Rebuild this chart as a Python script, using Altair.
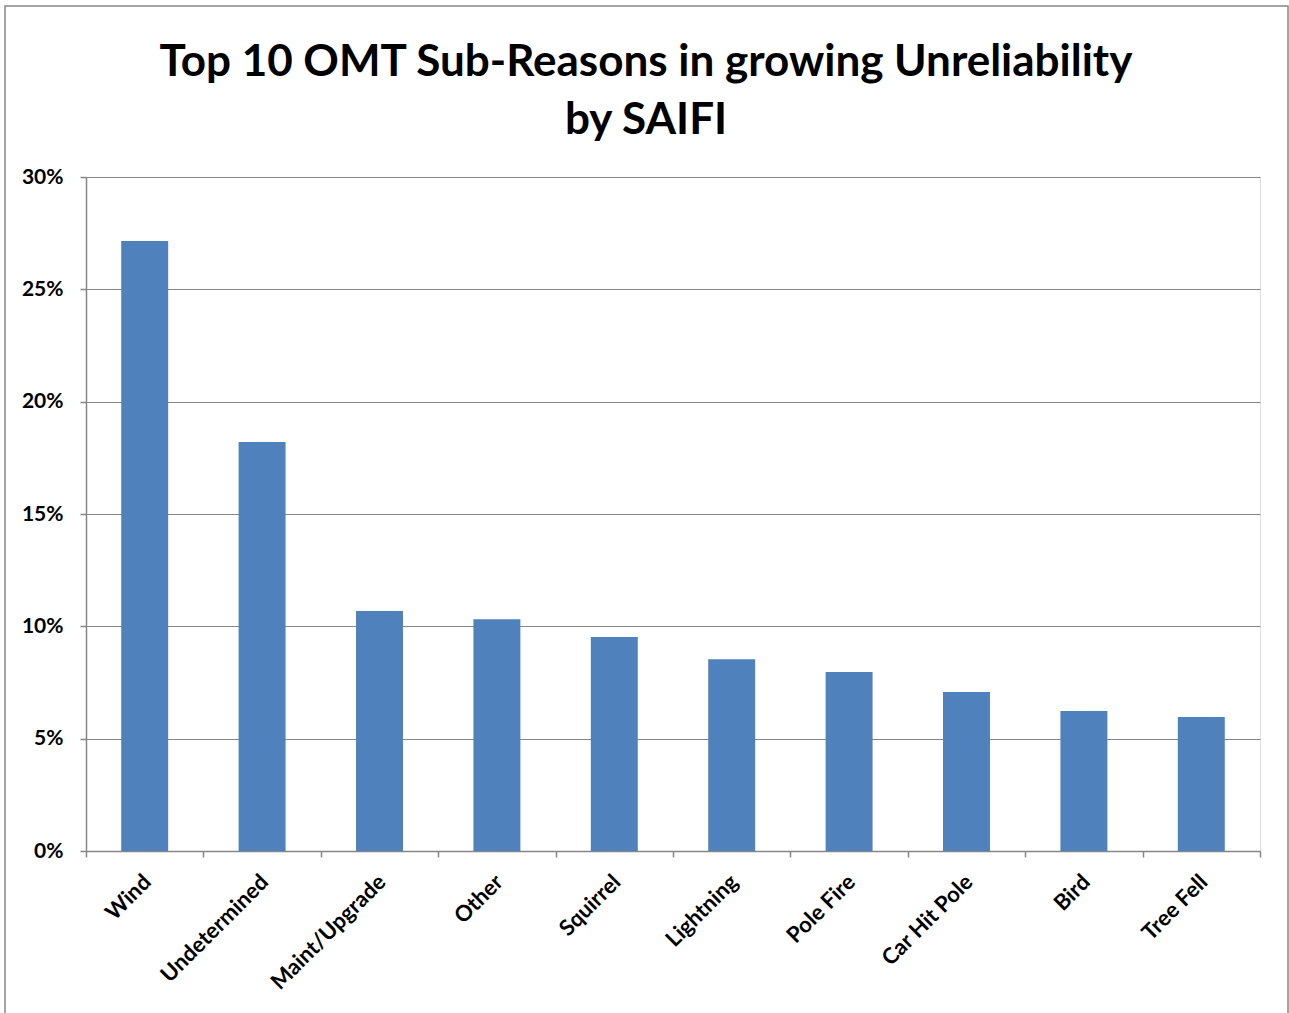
import altair as alt
import pandas as pd

categories = ["Wind", "Undetermined", "Maint/Upgrade", "Other", "Squirrel",
              "Lightning", "Pole Fire", "Car Hit Pole", "Bird", "Tree Fell"]
values = [0.2715, 0.182, 0.1068, 0.1032, 0.0952, 0.0854, 0.0797, 0.0708, 0.0623, 0.0596]

df = pd.DataFrame({"reason": categories, "share": values})

FONT = "Lato"
GRAY = "#868686"

border = alt.Chart(pd.DataFrame({"a": [0]})).mark_rect(
    fill=None, stroke=GRAY, strokeWidth=1.5
).encode(
    x=alt.value(-81), x2=alt.value(1202), y=alt.value(-171), y2=alt.value(900)
)

bars = alt.Chart(df).mark_bar(color="#4F81BD", width=alt.RelativeBandSize(0.4)).encode(
    x=alt.X("reason:N", sort=categories, title=None,
            scale=alt.Scale(paddingInner=0, paddingOuter=0),
            axis=alt.Axis(labelAngle=-45, labelAlign="right", labelBaseline="top",
                          labelFont=FONT, labelFontWeight="bold", labelFontSize=22,
                          labelColor="black", tickBand="extent", tickSize=6,
                          tickColor=GRAY, domainColor=GRAY, labelPadding=14,
                          labelOffset=-5, tickWidth=1.5, domainWidth=1.5)),
    y=alt.Y("share:Q", title=None,
            scale=alt.Scale(domain=[0, 0.3]),
            axis=alt.Axis(format=".0%", values=[0, 0.05, 0.1, 0.15, 0.2, 0.25, 0.3],
                          labelFont=FONT, labelFontWeight="bold", labelFontSize=21,
                          labelColor="black", tickSize=6, tickColor=GRAY,
                          domainColor=GRAY, gridColor=GRAY, labelPadding=17,
                          tickWidth=1.5, domainWidth=1.5, gridWidth=1.2)),
)

chart = alt.layer(border, bars).properties(
    width=1174, height=674,
    title=alt.TitleParams(
        ["Top 10 OMT Sub-Reasons in growing Unreliability", "by SAIFI"],
        font=FONT, fontSize=44, fontWeight="bold", color="black",
        anchor="middle", dx=-27, offset=-138, lineHeight=58
    ),
    autosize=alt.AutoSizeParams(type="none"),
    padding={"left": 86, "top": 177, "right": 29, "bottom": 162},
).configure_view(stroke=None).configure(background="white")

chart.save("out.html", embed_options={"renderer": "svg", "actions": False})
